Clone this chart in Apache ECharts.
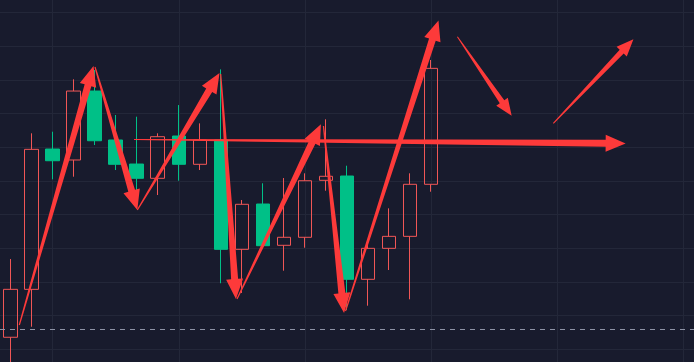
<!DOCTYPE html>
<html><head><meta charset="utf-8">
<script src="https://cdn.jsdelivr.net/npm/echarts@6/dist/echarts.min.js"></script>
<style>html,body{margin:0;padding:0;background:#181b2d;overflow:hidden}#c{width:694px;height:362px;}</style>
</head><body><div id="c"></div>
<script>
const categories = ['03-01','03-04','03-05','03-06','03-07','03-08','03-11','03-12','03-13','03-14','03-15',
  '03-18','03-19','03-20','03-21','03-22','03-25','03-26','03-27','03-28','03-29','04-01','04-02',
  '04-03','04-04','04-05','04-08','04-09','04-10','04-11','04-12','04-15','04-16'];
const opens  = [66.79, 73.91, 94.75, 93.12, 103.36, 96.09, 92.52, 90.40, 96.68, 92.48, 96.09, 79.85, 86.58, 80.45, 81.64, 90.10, 90.74, 75.40, 80.00, 81.78, 89.51];
const closes = [73.91, 94.70, 93.01, 103.36, 95.98, 92.48, 90.40, 96.58, 92.48, 96.09, 79.85, 86.54, 80.39, 81.64, 90.04, 90.70, 75.40, 80.00, 81.78, 89.51, 106.73];
const lows   = [61.50, 68.36, 90.25, 90.64, 95.34, 91.63, 88.00, 87.92, 90.04, 91.63, 74.81, 73.37, 80.20, 76.68, 80.09, 88.56, 70.84, 71.48, 76.78, 72.43, 88.41];
const highs  = [78.41, 97.08, 97.32, 105.10, 106.48, 99.80, 99.55, 97.08, 101.28, 98.56, 106.58, 87.18, 89.66, 90.44, 91.14, 99.16, 92.27, 80.94, 85.94, 91.14, 107.97];
const refLevel = 68.0;
// annotation arrows: [fromIndex, fromPrice, toIndex, toPrice]
const bigArrows = [
  [0.418, 68.61, 3.947, 107.07],
  [4.018, 106.93, 6.03, 85.69],
  [6.03, 85.69, 9.938, 106.03],
  [9.995, 105.89, 10.72, 72.47],
  [10.77, 72.47, 14.76, 98.42],
  [14.88, 98.16, 15.86, 70.40],
  [15.93, 70.69, 20.35, 113.83],
  [5.873, 96.16, 29.25, 95.57]
];
const smallArrows = [
  [21.25, 111.43, 23.83, 99.69],
  [25.81, 98.57, 29.62, 111.04]
];

const ARROW = '#fd3a3a';
function arrowRenderer(sz) {
  return function (params, api) {
    const p0 = api.coord([api.value(0), api.value(1)]);
    const p1 = api.coord([api.value(2), api.value(3)]);
    const dx = p1[0] - p0[0], dy = p1[1] - p0[1];
    const len = Math.hypot(dx, dy);
    const ux = dx / len, uy = dy / len, nx = -uy, ny = ux;
    const hb = [p1[0] - ux * sz.head, p1[1] - uy * sz.head];
    const pts = [
      [p0[0] + nx * sz.tail / 2, p0[1] + ny * sz.tail / 2],
      [hb[0] + nx * sz.shaft / 2, hb[1] + ny * sz.shaft / 2],
      [hb[0] + nx * sz.headW / 2, hb[1] + ny * sz.headW / 2],
      p1,
      [hb[0] - nx * sz.headW / 2, hb[1] - ny * sz.headW / 2],
      [hb[0] - nx * sz.shaft / 2, hb[1] - ny * sz.shaft / 2],
      [p0[0] - nx * sz.tail / 2, p0[1] - ny * sz.tail / 2]
    ];
    return { type: 'polygon', shape: { points: pts }, style: { fill: ARROW } };
  };
}

const candleData = opens.map((o, i) => [o, closes[i], lows[i], highs[i]]);
const chart = echarts.init(document.getElementById('c'), null, { renderer: 'canvas' });
chart.setOption({
  backgroundColor: '#181b2d',
  animation: false,
  grid: { left: 0, right: 0, top: -21, bottom: -21, containLabel: false, outerBoundsMode: 'none' },
  xAxis: [{
    type: 'category', data: categories, boundaryGap: true,
    axisLine: { show: false }, axisTick: { show: false }, axisLabel: { show: false },
    splitLine: { show: true, alignWithLabel: true, interval: function (i) { return i % 6 === 2; },
      lineStyle: { color: '#232739', width: 1 } }
  }, {
    type: 'value', min: -0.5, max: 32.5, show: false
  }],
  yAxis: {
    type: 'value', min: 60, max: 120, interval: 5,
    axisLine: { show: false }, axisTick: { show: false }, axisLabel: { show: false },
    splitLine: { show: true, lineStyle: { color: '#232739', width: 1 } }
  },
  series: [{
    type: 'candlestick', data: candleData, barWidth: 14,
    itemStyle: { color: 'transparent', color0: '#00c087', borderColor: '#f05656', borderColor0: '#00c087', borderWidth: 1 },
    markLine: {
      silent: true, symbol: 'none', label: { show: false },
      lineStyle: { color: '#8e93a6', type: [5, 5], width: 1 },
      data: [{ yAxis: refLevel }]
    }
  }, {
    type: 'custom', xAxisIndex: 1, yAxisIndex: 0, data: bigArrows, clip: false, z: 10,
    encode: { x: [0, 2], y: [1, 3] },
    renderItem: arrowRenderer({ tail: 1.2, shaft: 7, headW: 17, head: 20 })
  }, {
    type: 'custom', xAxisIndex: 1, yAxisIndex: 0, data: smallArrows, clip: false, z: 10,
    encode: { x: [0, 2], y: [1, 3] },
    renderItem: arrowRenderer({ tail: 1.0, shaft: 5.5, headW: 14, head: 17 })
  }]
});
</script></body></html>
